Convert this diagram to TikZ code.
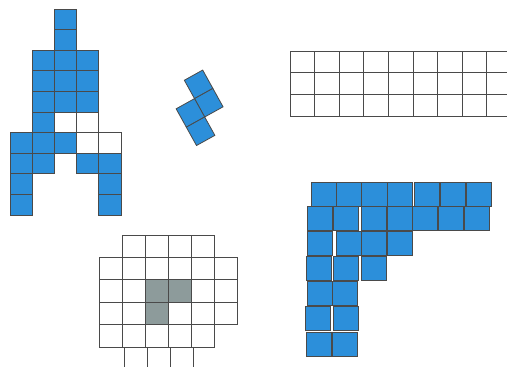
\documentclass[tikz,border=0pt]{standalone}
\usepackage{tikz}
\definecolor{tileblue}{HTML}{2C8FDA}
\definecolor{tilegray}{HTML}{8D9B9B}
\definecolor{edgegray}{HTML}{4A4A4A}

\begin{document}
\begin{tikzpicture}[x=1pt,y=-1pt,
 bluecell/.style={draw=edgegray,fill=tileblue,line width=0.8pt},
 whitecell/.style={draw=edgegray,fill=white,line width=0.8pt},
 graycell/.style={draw=edgegray,fill=tilegray,line width=0.8pt},
 gridline/.style={draw=edgegray,line width=0.8pt}]
\useasboundingbox[fill=white] (0,0) rectangle (507,367);

% rocket
\foreach \r/\cs in {0/{2},1/{2},2/{1,2,3},3/{1,2,3},4/{1,2,3},5/{1},6/{0,1,2},7/{0,1,3,4},8/{0,4},9/{0,4}}{
  \foreach \c in \cs
    \draw[bluecell] ({10+22.2*\c},{9+20.6*\r}) rectangle +(22.2,20.6);
}
\foreach \r/\cs in {5/{2,3},6/{3,4}}{
  \foreach \c in \cs
    \draw[whitecell] ({10+22.2*\c},{9+20.6*\r}) rectangle +(22.2,20.6);
}

% tilted piece
\begin{scope}[shift={(199.6,107.8)},rotate=29]
\foreach \c/\r in {1/0,1/1,0/1,0/2}
  \draw[bluecell] ({21*(\c-1)},{21*(\r-1.5)}) rectangle +(21,21);
\end{scope}

% strip, top right
\foreach \k in {0,...,8}
  \draw[gridline] ({290+24.6*\k},51) -- ({290+24.6*\k},116);
\foreach \k in {0,...,3}
  \draw[gridline] (290,{51+21.7*\k}) -- (507,{51+21.7*\k});

% board with grey corner piece
\foreach \r/\cs in {0/{1,2,3,4},1/{0,1,2,3,4,5},2/{0,1,4,5},3/{0,1,3,4,5},4/{0,1,2,3,4}}{
  \foreach \c in \cs
    \draw[whitecell] ({99+23*\c},{235+22.4*\r}) rectangle +(23,22.4);
}
\foreach \c/\r in {2/2,3/2,2/3}
  \draw[graycell] ({99+23*\c},{235+22.4*\r}) rectangle +(23,22.4);
\foreach \c in {1,...,4}
  \draw[gridline] ({101+23*\c},347) -- ({101+23*\c},367);

% big corner of blue squares
\foreach \y/\xs in {182/{311,336.5,361.5,387,414,440,466},206/{307,333,361,387,412,438,464},231/{307,336,361,387},256/{306,333,361},281/{307,332},306/{305,333},332/{306,332}}{
  \foreach \x in \xs
    \draw[bluecell] (\x,\y) rectangle +(25.5,24.7);
}
\end{tikzpicture}
\end{document}
